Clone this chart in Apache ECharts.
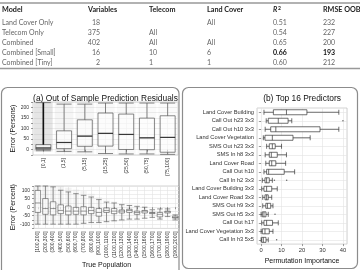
<!DOCTYPE html>
<html>
<head>
<meta charset="utf-8">
<style>
  html, body { margin: 0; padding: 0; background: #fff; }
  #chart { width: 360px; height: 270px; }
</style>
<script src="https://cdn.jsdelivr.net/npm/echarts@6/dist/echarts.min.js"></script>
</head>
<body>
<div id="chart"></div>
<script>
// ---- table ----
var models = ['Land Cover Only', 'Telecom Only', 'Combined', 'Combined [Small]', 'Combined [Tiny]'];
var nVariables = [18, 375, 402, 16, 2];
var telecomVars = ['', 'All', 'All', '10', '1'];
var landCoverVars = ['All', '', 'All', '6', '1'];
var r2 = ['0.51', '0.54', '0.65', '0.66', '0.60'];
var rmseOob = [232, 227, 200, 193, 212];
var bestModel = 'Combined [Small]';

// ---- (a) top: error in persons, [low, q1, median, q3, high] ----
var popBins = ['[0,1]', '(1,5]', '(5,15]', '(15,25]', '(25,50]', '(50,75]', '(75,100]'];
var errPersons = [
  [-5, 1, 8, 24, 222],
  [-8, 5, 34, 89, 215],
  [-10, 16, 64, 141, 215],
  [-18, 17, 77, 173, 220],
  [-20, 1, 72, 168, 220],
  [-20, 0, 56, 149, 220],
  [-22, -12, 58, 160, 220]
];
// extent and rough density of the jittered points
var personsCloudLow = [-8, -18, -20, -22, -24, -24, -24];
var personsCloudHigh = [225, 225, 225, 225, 225, 225, 225];
var personsCloudDensity = [0.9, 0.35, 0.3, 0.22, 0.2, 0.18, 0.18];

// ---- (a) bottom: error in percent ----
var truePopBins = ['[100,200]', '(200,300]', '(300,400]', '(400,500]', '(500,600]', '(600,700]',
  '(700,800]', '(800,900]', '(900,1000]', '(1000,1100]', '(1100,1200]', '(1200,1300]',
  '(1300,1400]', '(1400,1500]', '(1500,1600]', '(1600,1700]', '(1700,1800]', '(1800,1900]', '(1900,2000]'];
var errPercent = [
  [-100, -31, 25, 99, 125],
  [-100, -42, -8, 51, 125],
  [-100, -45, -8, 32, 120],
  [-100, -38, -19, 14, 100],
  [-100, -45, -23, 7, 90],
  [-100, -42, -23, -1, 80],
  [-95, -45, -23, 3, 70],
  [-90, -38, -19, -1, 60],
  [-90, -53, -31, -8, 45],
  [-85, -31, -19, -4, 30],
  [-80, -38, -23, -8, 25],
  [-75, -34, -23, -16, 15],
  [-70, -31, -19, -12, 10],
  [-70, -42, -31, -23, 5],
  [-65, -34, -23, -19, 0],
  [-60, -38, -34, -31, -15],
  [-70, -57, -42, -31, -10],
  [-55, -34, -27, -23, -10],
  [-75, -64, -61, -53, -45]
];
var percentCloudLow = [-100, -100, -100, -100, -100, -100, -100, -100, -100, -95, -90, -85, -80, -75, -70, -65, -70, -60, -75];
var percentCloudHigh = [125, 125, 125, 125, 115, 105, 95, 80, 60, 45, 35, 25, 20, 10, 5, 0, -5, -5, -40];
var percentCloudDensity = [0.5, 0.5, 0.45, 0.4, 0.4, 0.35, 0.35, 0.3, 0.3, 0.25, 0.25, 0.2, 0.2, 0.2, 0.15, 0.15, 0.15, 0.15, 0.1];

// ---- (b) top 16 predictors ----
var predictors = ['Land Cover Building', 'Call Out h23 3x3', 'Call Out h10 3x3', 'Land Cover Vegetation',
  'SMS Out h23 3x3', 'SMS In h8 3x3', 'Land Cover Road', 'Call Out h10', 'Call In h2 3x3',
  'Land Cover Building 3x3', 'Land Cover Road 3x3', 'SMS Out h9 3x3', 'SMS Out h5 3x3',
  'Call Out h17', 'Land Cover Vegetation 3x3', 'Call In h3 5x5'];
var importance = [
  [1.4, 6, 12.4, 22.4, 38],
  [2.5, 3.5, 8.4, 13.2, 15],
  [2, 4.7, 7.2, 28.8, 38],
  [1.1, 1.9, 5.5, 15.6, 24],
  [2.7, 4, 5.5, 6.9, 10],
  [2, 4, 5, 7.9, 12.4],
  [2.3, 4, 5.2, 7.2, 12],
  [1.4, 2.7, 3.7, 11.3, 16.4],
  [0.6, 1.9, 2.7, 4, 5.5],
  [0.3, 1.4, 2.7, 5.2, 7.9],
  [0.8, 1.9, 2.7, 3.5, 5.2],
  [0.8, 2.3, 3.1, 4.7, 5.8],
  [0, 0.6, 1.4, 2.4, 3.5],
  [0.3, 1.4, 2.7, 5.6, 8.4],
  [0, 0.6, 1.9, 4, 5.8],
  [0, 0.3, 1.1, 2.4, 3.5]
];
var importanceOutliers = [
  ['Call Out h23 3x3', 40],
  ['Call In h2 3x3', 6.5],
  ['Call In h2 3x3', 12.5],
  ['SMS Out h5 3x3', 6.8],
  ['Call In h3 5x5', 7.6]
];

var FONT = 'Liberation Sans';
var TABLE_FONT = 'Lato';

var chart = echarts.init(document.getElementById('chart'));

// table + titles + frames as graphics
var graphics = [];
function addText(x, y, s, st) {
  graphics.push({
    type: 'text', x: x, y: y, silent: true,
    style: Object.assign({ text: s, fontFamily: TABLE_FONT, fontSize: 7, fill: '#666',
      align: 'left', verticalAlign: 'middle' }, st)
  });
}
function addLine(x1, y1, x2, y2, w, c) {
  graphics.push({ type: 'line', silent: true, shape: { x1: x1, y1: y1, x2: x2, y2: y2 },
    style: { stroke: c, lineWidth: w } });
}

var colX = { model: 2, vars: 100, tel: 149, land: 207, r2: 273, rmse: 323 };
var head = { fontWeight: 'bold', fill: '#222', fontSize: 7.2 };
addLine(0, 3, 360, 3, 1.5, '#999');
addText(colX.model, 10, 'Model', head);
addText(88, 10, 'Variables', head);
addText(colX.tel, 10, 'Telecom', head);
addText(colX.land, 10, 'Land Cover', head);
addText(colX.r2, 10, 'R', Object.assign({}, head, { fontStyle: 'italic' }));
addText(colX.r2 + 5, 8, '2', Object.assign({}, head, { fontSize: 5 }));
addText(colX.rmse, 10, 'RMSE OOB', head);
models.forEach(function (m, i) {
  var y = 23 + i * 9.9;
  var best = m === bestModel ? { fontWeight: 'bold', fill: '#111' } : {};
  addText(colX.model, y, m);
  addText(colX.vars, y, String(nVariables[i]), { align: 'right' });
  addText(colX.tel, y, telecomVars[i]);
  addText(colX.land, y, landCoverVars[i]);
  addText(colX.r2, y, r2[i], best);
  addText(colX.rmse, y, String(rmseOob[i]), best);
});
addLine(0, 68.5, 360, 68.5, 1.5, '#999');

// panel frames
graphics.push({ type: 'rect', silent: true, shape: { x: 1.5, y: 87.5, width: 177.5, height: 200, r: 6 },
  style: { fill: 'none', stroke: '#8c8c8c', lineWidth: 1.2 } });
graphics.push({ type: 'rect', silent: true, shape: { x: 182.5, y: 87.5, width: 175, height: 181, r: 6 },
  style: { fill: 'none', stroke: '#8c8c8c', lineWidth: 1.2 } });
// panel titles
addText(105.5, 98.5, '(a) Out of Sample Prediction Residuals',
  { fontFamily: FONT, fontSize: 8.4, fill: '#111', align: 'center' });
addText(302, 98.5, '(b) Top 16 Predictors',
  { fontFamily: FONT, fontSize: 8.4, fill: '#111', align: 'center' });

var gridStyle = { show: true, borderColor: '#b5b5b5', borderWidth: 0.6, backgroundColor: '#fff' };
var split = { show: true, alignWithLabel: true, lineStyle: { color: '#e2e2e2', width: 0.6 } };
var tick = { show: true, length: 2, lineStyle: { color: '#555', width: 0.6 } };
var lbl = { fontFamily: FONT, color: '#333' };
var nameStyle = { fontFamily: FONT, fontSize: 7, color: '#111' };

function cloudSeries(xi, yi, low, high, dens, frac) {
  return {
    type: 'custom', xAxisIndex: xi, yAxisIndex: yi, silent: true, z: 1,
    data: low.map(function (l, i) { return [i, l, high[i], dens[i]]; }),
    renderItem: function (params, api) {
      var p0 = api.coord([api.value(0), api.value(1)]);
      var p1 = api.coord([api.value(0), api.value(2)]);
      var w = api.size([1, 0])[0] * frac;
      return { type: 'rect', shape: { x: p0[0] - w / 2, y: p1[1], width: w, height: p0[1] - p1[1] },
        style: { fill: 'rgba(160,160,160,' + (api.value(3) * 0.3) + ')' } };
    }
  };
}

var option = {
  animation: false,
  textStyle: { fontFamily: FONT },
  graphic: graphics,
  grid: [
    Object.assign({ left: 33, top: 102, width: 145, height: 53 }, gridStyle),
    Object.assign({ left: 34, top: 186, width: 145, height: 45 }, gridStyle),
    Object.assign({ left: 257, top: 108, width: 90, height: 146 }, gridStyle)
  ],
  xAxis: [
    { gridIndex: 0, type: 'category', data: popBins,
      axisLine: { show: false }, axisTick: Object.assign({ alignWithLabel: true }, tick),
      axisLabel: Object.assign({ rotate: 90, fontSize: 5, margin: 3, interval: 0 }, lbl),
      splitLine: split },
    { gridIndex: 1, type: 'category', data: truePopBins,
      axisLine: { show: false }, axisTick: Object.assign({ alignWithLabel: true }, tick),
      axisLabel: Object.assign({ rotate: 90, fontSize: 5, margin: 3, interval: 0 }, lbl),
      splitLine: split,
      name: 'True Population', nameLocation: 'middle', nameGap: 31, nameTextStyle: nameStyle },
    { gridIndex: 2, type: 'value', min: -2, max: 42, minInterval: 10, maxInterval: 10,
      axisLine: { show: false }, axisTick: tick,
      axisLabel: Object.assign({ fontSize: 5.8, margin: 3, showMinLabel: false, showMaxLabel: false }, lbl),
      splitLine: split,
      name: 'Permutation Importance', nameLocation: 'middle', nameGap: 9, nameTextStyle: nameStyle }
  ],
  yAxis: [
    { gridIndex: 0, type: 'value', min: -25, max: 225, interval: 25,
      axisLine: { show: false }, axisTick: tick,
      axisLabel: Object.assign({ fontSize: 5, margin: 4,
        formatter: function (v) { return (v % 50 === 0 && v >= 0 && v <= 200) ? v : ''; } }, lbl),
      splitLine: split,
      name: 'Error (Persons)', nameLocation: 'middle', nameGap: 15, nameTextStyle: nameStyle },
    { gridIndex: 1, type: 'value', min: -125, max: 125, interval: 25,
      axisLine: { show: false }, axisTick: tick,
      axisLabel: Object.assign({ fontSize: 5, margin: 4,
        formatter: function (v) { return (v % 50 === 0 && Math.abs(v) <= 100) ? v : ''; } }, lbl),
      splitLine: split,
      name: 'Error (Percent)', nameLocation: 'middle', nameGap: 16, nameTextStyle: nameStyle },
    { gridIndex: 2, type: 'category', data: predictors, inverse: true,
      axisLine: { show: false }, axisTick: Object.assign({ alignWithLabel: true }, tick),
      axisLabel: Object.assign({ fontSize: 5.7, margin: 3, interval: 0 }, lbl),
      splitLine: split }
  ],
  series: [
    cloudSeries(0, 0, personsCloudLow, personsCloudHigh, personsCloudDensity, 0.9),
    cloudSeries(1, 1, percentCloudLow, percentCloudHigh, percentCloudDensity, 0.85),
    { type: 'boxplot', xAxisIndex: 0, yAxisIndex: 0, data: errPersons, boxWidth: [15, 15], z: 3,
      itemStyle: { color: 'rgba(255,255,255,0.55)', borderColor: '#555', borderWidth: 0.7 } },
    { type: 'custom', xAxisIndex: 0, yAxisIndex: 0, silent: true, z: 4,
      data: [[0, errPersons[0][3], errPersons[0][4]]],
      renderItem: function (params, api) {
        var a = api.coord([api.value(0), api.value(1)]);
        var b = api.coord([api.value(0), api.value(2)]);
        return { type: 'line', shape: { x1: a[0], y1: a[1], x2: b[0], y2: b[1] },
          style: { stroke: '#111', lineWidth: 1.6 } };
      } },
    { type: 'scatter', xAxisIndex: 0, yAxisIndex: 0, silent: true, z: 5,
      symbol: 'rect', symbolSize: [15, 1.2], itemStyle: { color: '#222' },
      data: errPersons.map(function (d, i) { return [i, d[2]]; }) },
    { type: 'boxplot', xAxisIndex: 1, yAxisIndex: 1, data: errPercent, boxWidth: [5.5, 5.5], z: 3,
      itemStyle: { color: 'rgba(255,255,255,0.6)', borderColor: '#555', borderWidth: 0.6 } },
    { type: 'boxplot', xAxisIndex: 2, yAxisIndex: 2, data: importance, boxWidth: [5, 5], z: 3,
      itemStyle: { color: '#fff', borderColor: '#333', borderWidth: 0.7 } },
    { type: 'scatter', xAxisIndex: 2, yAxisIndex: 2, silent: true, z: 4,
      symbol: 'circle', symbolSize: 1.5, itemStyle: { color: '#444' },
      data: importanceOutliers.map(function (o) { return [o[1], o[0]]; }) }
  ]
};
chart.setOption(option);
</script>
</body>
</html>
